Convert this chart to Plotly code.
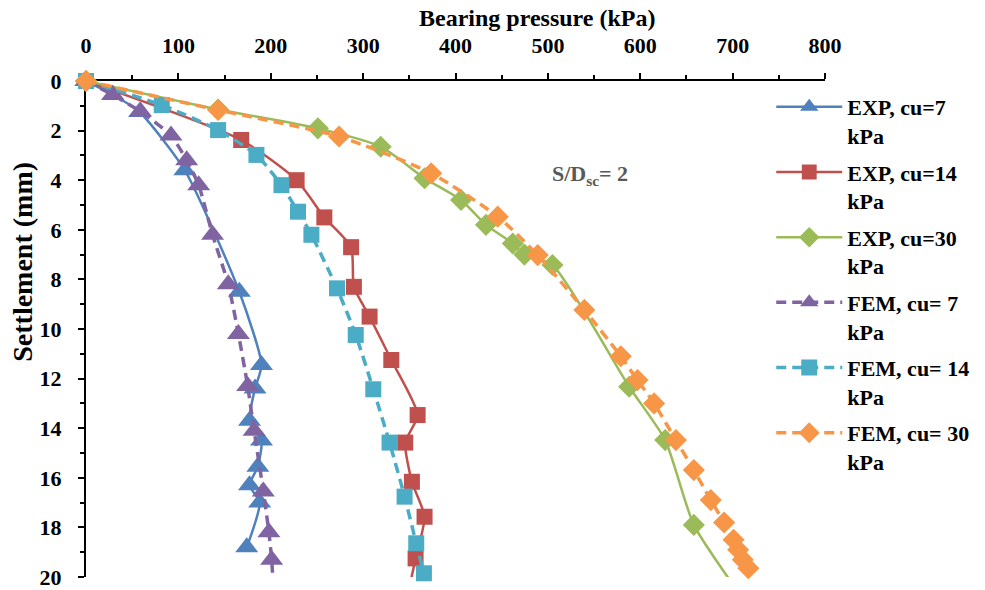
import plotly.graph_objects as go

# ---- data ----
exp7_x = [0, 29, 58, 107, 166, 190, 183, 177, 190, 186, 177, 188, 174]
exp7_y = [0, 0.55, 1.25, 3.6, 8.5, 11.45, 12.4, 13.7, 14.5, 15.55, 16.3, 17.0, 18.8]

exp14_x = [0, 168, 228, 258, 287, 290, 307, 330.5, 359, 345.6, 352.8, 366.5, 356.8, 349]
exp14_y = [0, 2.38, 4.0, 5.5, 6.7, 8.3, 9.5, 11.25, 13.47, 14.58, 16.16, 17.57, 19.25, 20.6]

exp30_x = [0, 143, 251, 319, 366.5, 406, 433, 462, 474.6, 505, 588, 627, 658, 706]
exp30_y = [0, 1.15, 1.91, 2.65, 3.92, 4.8, 5.8, 6.55, 7.0, 7.42, 12.33, 14.48, 17.9, 20.6]

fem7_x = [0, 29, 59, 92, 109, 122, 137, 154, 165, 175, 182, 192, 198, 201, 203]
fem7_y = [0, 0.56, 1.23, 2.2, 3.2, 4.2, 6.2, 8.2, 10.2, 12.3, 14.1, 16.55, 18.2, 19.3, 20.6]

fem14_x = [0, 82, 143, 184.5, 211.6, 229.5, 244, 271.7, 292, 311, 328.6, 344.9, 357.5, 365.8]
fem14_y = [0, 0.97, 1.98, 2.98, 4.2, 5.27, 6.2, 8.36, 10.24, 12.43, 14.58, 16.76, 18.64, 19.85]

fem30_x = [0, 143, 274, 373.7, 445.7, 489, 539.5, 579, 597, 615, 638.6, 658, 676.4, 690.8, 701, 706, 711, 717]
fem30_y = [0, 1.17, 2.24, 3.72, 5.47, 7.02, 9.23, 11.1, 12.06, 13.0, 14.48, 15.69, 16.9, 17.8, 18.5, 18.9, 19.3, 19.65]

names = ["EXP, cu=7<br>kPa", "EXP, cu=14<br>kPa", "EXP, cu=30<br>kPa",
         "FEM, cu= 7<br>kPa", "FEM, cu= 14<br>kPa", "FEM, cu= 30<br>kPa"]

x_title = "Bearing pressure (kPa)"
y_title = "Settlement (mm)"
note = "S/D<sub>sc</sub>= 2"

FONT = "Liberation Serif"
Y_MAX = 20

def sizes(ys, s):
    # points beyond the axis limit only continue the line
    return [s if y <= Y_MAX else 0 for y in ys]

series = [
    (exp7_x, exp7_y, names[0], "#4F81BD", "solid", "triangle-up", 20, 2.5),
    (exp14_x, exp14_y, names[1], "#C0504D", "solid", "square", 16, 2.5),
    (exp30_x, exp30_y, names[2], "#9BBB59", "solid", "diamond", 17, 2.5),
    (fem7_x, fem7_y, names[3], "#8064A2", "10px,6px", "triangle-up", 20, 3.5),
    (fem14_x, fem14_y, names[4], "#4BACC6", "10px,6px", "square", 16, 3.5),
    (fem30_x, fem30_y, names[5], "#F79646", "10px,6px", "diamond", 17, 3.5),
]

fig = go.Figure()
for i, (xs, ys, nm, col, dash, sym, ms, lw) in enumerate(series):
    fig.add_trace(go.Scatter(
        x=xs, y=ys, name=nm, mode="lines+markers", legendgroup=f"g{i}",
        line=dict(color=col, width=lw, dash=dash, shape="spline", smoothing=0.6),
        marker=dict(symbol=sym, size=sizes(ys, ms), color=col, opacity=1, line=dict(width=0)),
        cliponaxis=False,
    ))

axis_font = dict(family=FONT, size=22, color="black", weight="bold")

fig.update_layout(
    width=985, height=590, autosize=False,
    margin=dict(l=86, r=159, t=81, b=13),
    plot_bgcolor="white", paper_bgcolor="white",
    font=dict(family=FONT, size=22, color="black"),
    xaxis=dict(
        side="top", range=[0, 800], dtick=100, tick0=0, automargin=False,
        showline=True, linewidth=2, linecolor="black", mirror=False,
        ticks="outside", ticklen=6, tickwidth=2, tickcolor="black",
        minor=dict(ticks="outside", ticklen=4, tickwidth=2, dtick=50, tickcolor="black"),
        showgrid=False, zeroline=False, layer="below traces",
        tickfont=axis_font, ticklabelstandoff=11,
    ),
    yaxis=dict(
        range=[20, 0], dtick=2, tick0=0, automargin=False,
        showline=True, linewidth=2, linecolor="black", mirror=False,
        ticks="outside", ticklen=6, tickwidth=2, tickcolor="black",
        minor=dict(ticks="outside", ticklen=4, tickwidth=2, dtick=1, tickcolor="black"),
        showgrid=False, zeroline=False, layer="below traces",
        tickfont=axis_font, ticklabelstandoff=12,
    ),
    legend=dict(
        x=0.926, xanchor="left", y=0.99, yanchor="top",
        font=dict(family=FONT, size=22, color="black", weight="bold"),
        valign="top", itemwidth=66, tracegroupgap=5,
        bgcolor="rgba(0,0,0,0)",
    ),
    showlegend=True,
)

fig.add_annotation(
    text=x_title, xref="paper", yref="paper", x=0.61, y=1.127,
    xanchor="center", yanchor="middle", showarrow=False,
    font=dict(family=FONT, size=24, color="black", weight="bold"),
)
fig.add_annotation(
    text=y_title, textangle=-90, xref="paper", yref="y",
    x=-0.087, y=7.3, xanchor="center", yanchor="middle", showarrow=False,
    font=dict(family=FONT, size=28, color="black", weight="bold"),
)
fig.add_annotation(
    text=note, xref="x", yref="y", x=546, y=3.8, showarrow=False,
    font=dict(family=FONT, size=22, color="#595959", weight="bold"),
)

fig.write_html("out.html")
